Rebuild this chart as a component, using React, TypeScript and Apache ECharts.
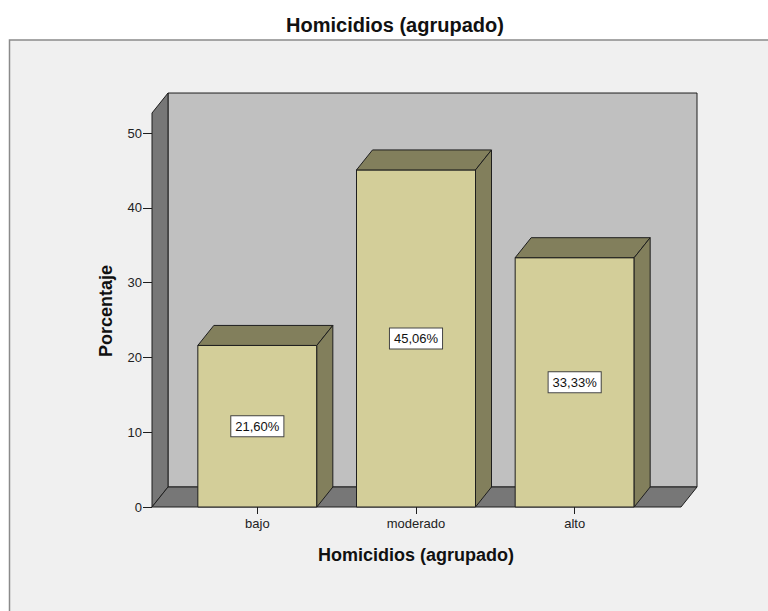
import React, { useEffect, useRef } from "react";
import * as echarts from "echarts";

const categories = ["bajo", "moderado", "alto"];
const percentages = [21.6, 45.06, 33.33];
const valueLabels = ["21,60%", "45,06%", "33,33%"];
const chartTitle = "Homicidios (agrupado)";
const xAxisTitle = "Homicidios (agrupado)";
const yAxisTitle = "Porcentaje";
const yMin = 0;
const yMax = 50;
const yInterval = 10;
const wallTopValue = 52.67;

const DX = 16;
const DY = -20;
const FONT = "Arial, 'Liberation Sans', sans-serif";
const EDGE = "#1e1e1e";

export default function App() {
  const ref = useRef<HTMLDivElement>(null);
  useEffect(() => {
    if (!ref.current) return;
    const chart = echarts.init(ref.current, null, { renderer: "svg" });
    chart.setOption({
      animation: false,
      backgroundColor: "#ffffff",
      grid: { left: 178, right: 114, top: 133, bottom: 104 },
      xAxis: {
        type: "category",
        data: categories,
        axisLine: { show: false },
        axisTick: { show: true, alignWithLabel: true, length: 7, lineStyle: { color: EDGE, width: 1 } },
        axisLabel: { color: "#222", fontFamily: FONT, fontSize: 13, margin: 10 },
        splitLine: { show: false },
      },
      yAxis: {
        type: "value",
        min: yMin,
        max: yMax,
        interval: yInterval,
        offset: 26,
        axisLine: { show: false },
        axisTick: { show: true, length: 9, lineStyle: { color: EDGE, width: 1 } },
        axisLabel: { color: "#222", fontFamily: FONT, fontSize: 13, margin: 10 },
        splitLine: { show: false },
      },
      graphic: [
        {
          type: "rect",
          z: -10,
          shape: { x: 9.5, y: 40, width: 800, height: 620 },
          style: { fill: "#f0f0f0", stroke: "#8a8a8a", lineWidth: 1.5 },
        },
        {
          type: "text",
          x: 395,
          y: 25,
          style: {
            text: chartTitle,
            font: `bold 20px ${FONT}`,
            fill: "#111",
            textAlign: "center",
            textVerticalAlign: "middle",
          },
        },
        {
          type: "text",
          x: 416,
          y: 555,
          style: {
            text: xAxisTitle,
            font: `bold 18px ${FONT}`,
            fill: "#111",
            textAlign: "center",
            textVerticalAlign: "middle",
          },
        },
        {
          type: "text",
          x: 106,
          y: 311,
          rotation: Math.PI / 2,
          style: {
            text: yAxisTitle,
            font: `bold 18px ${FONT}`,
            fill: "#111",
            textAlign: "center",
            textVerticalAlign: "middle",
          },
        },
      ],
      series: [
        {
          type: "custom",
          z: 1,
          silent: true,
          clip: false,
          data: [0],
          renderItem: (params: any, api: any) => {
            const cs = params.coordSys;
            const left = cs.x - 26;
            const right = cs.x + cs.width + 27;
            const y0 = api.coord([0, 0])[1];
            const yTop = api.coord([0, wallTopValue])[1];
            return {
              type: "group",
              children: [
                {
                  type: "polygon",
                  shape: {
                    points: [
                      [left + DX, yTop + DY],
                      [right + DX, yTop + DY],
                      [right + DX, y0 + DY],
                      [left + DX, y0 + DY],
                    ],
                  },
                  style: { fill: "#c0c0c0", stroke: EDGE, lineWidth: 1 },
                },
                {
                  type: "polygon",
                  shape: {
                    points: [
                      [left, yTop],
                      [left + DX, yTop + DY],
                      [left + DX, y0 + DY],
                      [left, y0],
                    ],
                  },
                  style: { fill: "#777777", stroke: EDGE, lineWidth: 1 },
                },
                {
                  type: "polygon",
                  shape: {
                    points: [
                      [left, y0],
                      [right, y0],
                      [right + DX, y0 + DY],
                      [left + DX, y0 + DY],
                    ],
                  },
                  style: { fill: "#777777", stroke: EDGE, lineWidth: 1 },
                },
              ],
            };
          },
        },
        {
          type: "custom",
          z: 3,
          clip: false,
          data: percentages.map((v, i) => [i, v]),
          renderItem: (params: any, api: any) => {
            const i = api.value(0);
            const v = api.value(1);
            const base = api.coord([i, 0]);
            const top = api.coord([i, v]);
            const bw = api.size([1, 0])[0] * 0.75;
            const x1 = base[0] - bw / 2;
            const x2 = base[0] + bw / 2;
            const yb = base[1];
            const yt = top[1];
            return {
              type: "group",
              children: [
                {
                  type: "polygon",
                  shape: { points: [[x1, yt], [x2, yt], [x2, yb], [x1, yb]] },
                  style: { fill: "#d3ce99", stroke: EDGE, lineWidth: 1 },
                },
                {
                  type: "polygon",
                  shape: { points: [[x1, yt], [x1 + DX, yt + DY], [x2 + DX, yt + DY], [x2, yt]] },
                  style: { fill: "#827f5c", stroke: EDGE, lineWidth: 1 },
                },
                {
                  type: "polygon",
                  shape: { points: [[x2, yt], [x2 + DX, yt + DY], [x2 + DX, yb + DY], [x2, yb]] },
                  style: { fill: "#827f5c", stroke: EDGE, lineWidth: 1 },
                },
                {
                  type: "text",
                  x: base[0],
                  y: (yt + yb) / 2,
                  style: {
                    text: valueLabels[params.dataIndex],
                    font: `13px ${FONT}`,
                    fill: "#111",
                    textAlign: "center",
                    textVerticalAlign: "middle",
                    backgroundColor: "#ffffff",
                    borderColor: "#444",
                    borderWidth: 1,
                    padding: [4, 4, 3, 4],
                  },
                },
              ],
            };
          },
        },
      ],
    });
    return () => chart.dispose();
  }, []);
  return (
    <div
      ref={ref}
      style={{ position: "fixed", left: 0, top: 0, width: 768, height: 611 }}
    />
  );
}
